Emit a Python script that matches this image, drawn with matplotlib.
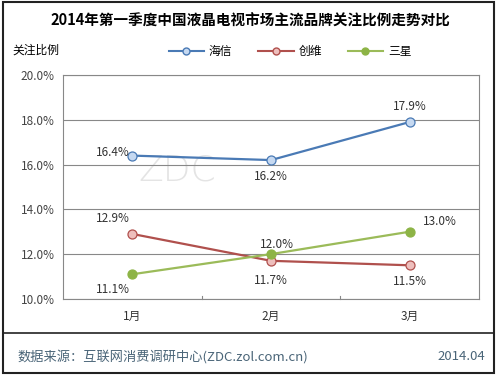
import matplotlib
matplotlib.use("Agg")
import matplotlib.pyplot as plt
from matplotlib.patches import Rectangle
from matplotlib.lines import Line2D

plt.rcParams['font.family'] = ['Noto Sans CJK SC', 'DejaVu Sans']

# dati
months = ["1月", "2月", "3月"]
hisense = [16.4, 16.2, 17.9]
skyworth = [12.9, 11.7, 11.5]
samsung = [11.1, 12.0, 13.0]
yticks = [10, 12, 14, 16, 18, 20]

fig = plt.figure(figsize=(5, 3.75), dpi=100)
ax = fig.add_axes([0.126, 0.203, 0.832, 0.597])

# watermark tenue dietro le linee
ax.text(0.18, 0.53, "ZDC", transform=ax.transAxes, fontsize=26, color="#e4e4e4",
        family="DejaVu Sans", fontweight="light", zorder=0)

x = [0, 1, 2]
ax.plot(x, hisense, color="#4a7ab5", lw=1.6, marker="o", ms=6.5,
        mfc="#c6d9f1", mec="#4a7ab5", mew=0.9, label="海信", zorder=3)
ax.plot(x, skyworth, color="#b0504d", lw=1.6, marker="o", ms=6.5,
        mfc="#eebfbd", mec="#b0504d", mew=0.9, label="创维", zorder=3)
ax.plot(x, samsung, color="#9bbb59", lw=1.6, marker="o", ms=6.5,
        mfc="#8db446", mec="#8db446", mew=0.9, label="三星", zorder=3)

# etichette dei valori (offset in punti)
offsets = {
    "h": [(-14, 2), (0, -12), (0, 11)],
    "s": [(-14, 11), (0, -14), (0, -12)],
    "m": [(-14, -11), (4, 7), (22, 7)],
}
for key, ys in (("h", hisense), ("s", skyworth), ("m", samsung)):
    for i, v in enumerate(ys):
        ax.annotate(f"{v:.1f}%", (x[i], v), xytext=offsets[key][i],
                    textcoords="offset points", ha="center", va="center",
                    fontsize=8.5, color="#333333")

ax.set_xlim(-0.5, 2.5)
ax.set_ylim(10, 20)
ax.set_yticks(yticks)
ax.set_yticklabels([f"{t:.1f}%" for t in yticks], fontsize=8.5, color="#444444")
ax.set_xticks(x)
ax.set_xticklabels(months, fontsize=8.5, color="#333333")
ax.tick_params(axis="x", length=0, pad=8)
ax.tick_params(axis="y", length=0, pad=6)
for b in (0.5, 1.5):
    ax.plot([b, b], [10, 10.12], color="#888888", lw=0.8, clip_on=False)
ax.grid(axis="y", color="#888888", lw=0.8)
ax.set_axisbelow(True)
for s in ax.spines.values():
    s.set_color("#888888")
    s.set_linewidth(0.8)

fig.text(0.5, 0.945, "2014年第一季度中国液晶电视市场主流品牌关注比例走势对比",
         ha="center", va="center", fontsize=10.5, fontweight="bold")
fig.text(0.025, 0.865, "关注比例", ha="left", va="center", fontsize=8.5)

handles = [Line2D([], [], color="#4a7ab5", lw=1.5, marker="o", ms=5, mfc="#c6d9f1", mec="#4a7ab5"),
           Line2D([], [], color="#b0504d", lw=1.5, marker="o", ms=5, mfc="#eebfbd", mec="#b0504d"),
           Line2D([], [], color="#9bbb59", lw=1.5, marker="o", ms=5, mfc="#8db446", mec="#8db446")]
fig.legend(handles, ["海信", "创维", "三星"], loc="center", bbox_to_anchor=(0.58, 0.862),
           ncol=3, frameon=False, fontsize=8.5, handlelength=3, columnspacing=2.2,
           handletextpad=0.4)

# cornice e piè di pagina
fig.add_artist(Rectangle((0.006, 0.006), 0.982, 0.988, transform=fig.transFigure,
                         fill=False, ec="#222222", lw=1.5))
fig.add_artist(Line2D([0.006, 0.988], [0.112, 0.112], transform=fig.transFigure,
                      color="#222222", lw=1.2))
fig.text(0.035, 0.05, "数据来源：互联网消费调研中心(ZDC.zol.com.cn)", ha="left",
         va="center", fontsize=9.5, color="#4a6578")
fig.text(0.97, 0.05, "2014.04", ha="right", va="center", fontsize=9.5, color="#4a6578")

fig.savefig("out.png", dpi=100)
